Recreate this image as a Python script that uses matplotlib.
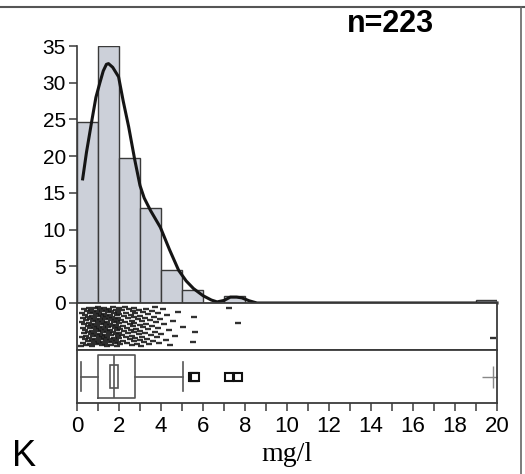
import numpy as np
import matplotlib
matplotlib.use("Agg")
import matplotlib.pyplot as plt
from matplotlib import cbook
from matplotlib.lines import Line2D
from matplotlib.patches import Rectangle

plt.rcParams['font.family'] = ['Liberation Sans', 'DejaVu Sans']

concentration = [
    # 0-1
    0.20, 0.22, 0.25, 0.25, 0.28, 0.30, 0.30, 0.32, 0.35, 0.35,
    0.38, 0.40, 0.40, 0.42, 0.45, 0.45, 0.48, 0.50, 0.50, 0.50,
    0.52, 0.55, 0.55, 0.58, 0.60, 0.60, 0.60, 0.62, 0.65, 0.65,
    0.68, 0.70, 0.70, 0.70, 0.72, 0.75, 0.75, 0.78, 0.80, 0.80,
    0.80, 0.82, 0.85, 0.85, 0.88, 0.90, 0.90, 0.90, 0.92, 0.95,
    0.95, 0.97, 0.98, 0.99, 0.99,
    # 1-2
    1.00, 1.02, 1.03, 1.05, 1.05, 1.07, 1.08, 1.10, 1.10, 1.12,
    1.13, 1.15, 1.15, 1.17, 1.18, 1.20, 1.20, 1.22, 1.23, 1.25,
    1.25, 1.27, 1.28, 1.30, 1.30, 1.32, 1.33, 1.35, 1.35, 1.37,
    1.38, 1.40, 1.40, 1.42, 1.43, 1.45, 1.45, 1.47, 1.48, 1.50,
    1.50, 1.52, 1.53, 1.55, 1.55, 1.57, 1.58, 1.60, 1.60, 1.62,
    1.63, 1.65, 1.67, 1.68, 1.70, 1.72, 1.75, 1.76, 1.78, 1.80,
    1.81, 1.83, 1.84, 1.85, 1.87, 1.88, 1.89, 1.90, 1.91, 1.92,
    1.93, 1.94, 1.95, 1.96, 1.97, 1.98, 1.99, 1.99,
    # 2-3
    2.00, 2.02, 2.05, 2.07, 2.10, 2.12, 2.15, 2.17, 2.20, 2.22,
    2.25, 2.27, 2.30, 2.32, 2.35, 2.37, 2.40, 2.42, 2.45, 2.47,
    2.50, 2.52, 2.55, 2.57, 2.60, 2.62, 2.64, 2.66, 2.68, 2.70,
    2.71, 2.72, 2.72, 2.73, 2.75, 2.78, 2.82, 2.86, 2.90, 2.95,
    2.97, 2.98, 2.99, 2.99,
    # 3-4
    3.02, 3.05, 3.08, 3.10, 3.13, 3.16, 3.20, 3.22, 3.25, 3.28,
    3.30, 3.34, 3.38, 3.40, 3.44, 3.48, 3.50, 3.55, 3.58, 3.62,
    3.65, 3.70, 3.72, 3.76, 3.80, 3.84, 3.88, 3.92, 3.96,
    # 4 and up
    4.02, 4.08, 4.15, 4.22, 4.30, 4.38, 4.45, 4.55, 4.65, 4.80,
    5.05, 5.52, 5.58, 5.62,
    7.25, 7.68,
    19.80,
]

# Smoothed density curve (percent scale)
density_x = [0.27, 0.45, 0.71, 0.9, 1.08, 1.25, 1.4, 1.5, 1.7, 1.98, 2.2, 2.46,
             2.75, 3.0, 3.2, 3.5, 3.97, 4.4, 4.84, 5.2, 5.55, 6.0, 6.4, 6.67, 7.0,
             7.3, 7.6, 7.85, 8.2, 8.57, 10.0, 14.0, 20.0]
density_y = [16.9, 20.5, 24.9, 28.0, 29.9, 31.6, 32.5, 32.6, 32.1, 30.8, 27.5, 24.0,
             19.5, 16.0, 14.3, 12.6, 10.3, 7.3, 4.45, 3.0, 1.96, 1.0, 0.4, 0.15, 0.35,
             0.8, 0.8, 0.7, 0.3, 0.0, 0.0, 0.0, 0.0]

bin_edges = np.arange(0, 21)
n = len(concentration)

W, H = 525, 474
fig = plt.figure(figsize=(W / 100, H / 100), dpi=100)

def frac(left, top, right, bottom):
    return [left / W, 1 - bottom / H, (right - left) / W, (bottom - top) / H]

ax_h = fig.add_axes(frac(77, 46, 497, 303))
ax_r = fig.add_axes(frac(77, 303, 497, 350))
ax_b = fig.add_axes(frac(77, 350, 497, 403))

edge = '#3a3a3a'

# histogram (percent)
ax_h.hist(concentration, bins=bin_edges, weights=np.full(n, 100.0 / n),
          color='#ccd0d9', edgecolor=edge, linewidth=1.0)
ax_h.plot(density_x, density_y, color='#151515', lw=2.2, clip_on=False, zorder=5)
ax_h.set_xlim(0, 20)
ax_h.set_ylim(0, 35)
for s in ['top', 'right', 'bottom']:
    ax_h.spines[s].set_visible(False)
ax_h.spines['left'].set_color(edge)
ax_h.spines['left'].set_linewidth(1.2)
ax_h.set_xticks([])
ax_h.set_yticks(np.arange(0, 36, 5))
ax_h.tick_params(axis='y', length=6, width=1.1, color=edge, pad=2, labelsize=15)
ax_h.patch.set_alpha(0)

# rug of individual values with vertical jitter
jitter = 0.08 + 0.84 * ((np.arange(n) * 0.6180339887) % 1)
ax_r.plot(concentration, jitter, linestyle='none', marker='_', ms=5, mew=1.7,
          color='#1a1a1a', alpha=0.9)
ax_r.set_xlim(0, 20)
ax_r.set_ylim(0, 1)
ax_r.set_xticks([])
ax_r.set_yticks([])
for s in ax_r.spines.values():
    s.set_color(edge)
    s.set_linewidth(1.3)

# outlier box plot
stats = cbook.boxplot_stats(concentration, whis=1.5)[0]
box_color = '#555555'
ax_b.bxp([stats], positions=[0.5], widths=0.81, orientation='horizontal',
         showfliers=False, capwidths=0.55,
         boxprops=dict(color=box_color, lw=1.2),
         whiskerprops=dict(color=box_color, lw=1.2),
         capprops=dict(color=box_color, lw=1.2),
         medianprops=dict(color=box_color, lw=1.2))
ax_b.add_patch(Rectangle((stats['cilo'], 0.285), stats['cihi'] - stats['cilo'], 0.43,
                         fill=False, edgecolor=box_color, lw=1.2))
iqr = stats['q3'] - stats['q1']
fliers = np.asarray(stats['fliers'])
far = fliers > stats['q3'] + 3 * iqr
ax_b.plot(fliers[~far], np.full((~far).sum(), 0.5), linestyle='none', marker='s',
          ms=6, mfc='white', mec='#111111', mew=1.5)
ax_b.plot(fliers[far], np.full(far.sum(), 0.5), linestyle='none', marker='+',
          ms=16, mew=1.0, color='#888888')
ax_b.set_xlim(0, 20)
ax_b.set_ylim(0, 1)
ax_b.set_yticks([])
ax_b.set_xticks(np.arange(0, 21, 2))
ax_b.set_xticks(np.arange(0, 21, 1), minor=True)
ax_b.tick_params(axis='x', which='both', length=6, width=1.1, color=edge, pad=3,
                 labelsize=16)
for s in ax_b.spines.values():
    s.set_color(edge)
    s.set_linewidth(1.3)

# texts
fig.text(390 / W, 1 - 32 / H, 'n=223', ha='center', va='baseline',
         fontsize=22, fontweight='bold')
fig.text(287 / W, 1 - 461 / H, 'mg/l', ha='center', va='baseline',
         fontsize=20, family=['Liberation Serif', 'DejaVu Serif'])
fig.text(12 / W, 1 - 466 / H, 'K', ha='left', va='baseline', fontsize=26,
         family=['Liberation Sans Narrow', 'Liberation Sans'])

# outer frame of the scanned panel
fig.add_artist(Line2D([0, 1], [1 - 7 / H, 1 - 7 / H], transform=fig.transFigure,
                      color='#555555', lw=1.5))
fig.add_artist(Line2D([521 / W, 521 / W], [0, 1 - 7 / H], transform=fig.transFigure,
                      color='#666666', lw=1.2))

fig.savefig('out.png', dpi=100)
